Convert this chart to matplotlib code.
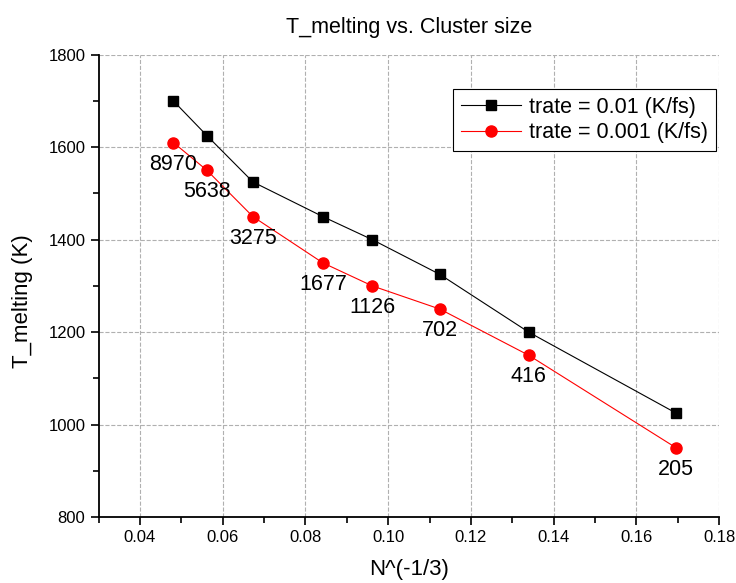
import matplotlib
matplotlib.use("Agg")
import matplotlib.pyplot as plt
from matplotlib.ticker import MultipleLocator

plt.rcParams['font.family'] = ['Liberation Sans', 'DejaVu Sans']

# cluster sizes and N^(-1/3) positions
sizes = ['8970', '5638', '3275', '1677', '1126', '702', '416', '205']
x_vals = [0.0481, 0.0562, 0.0673, 0.0842, 0.0962, 0.1125, 0.1340, 0.1696]
t_fast = [1700, 1625, 1525, 1450, 1400, 1325, 1200, 1025]   # trate = 0.01
t_slow = [1610, 1550, 1450, 1350, 1300, 1250, 1150, 950]    # trate = 0.001

fig = plt.figure(figsize=(7.36, 5.83), dpi=100)
ax = fig.add_axes([0.134, 0.113, 0.843, 0.793])

ax.plot(x_vals, t_fast, color='black', marker='s', markersize=7, linewidth=0.8,
        label='trate = 0.01 (K/fs)')
ax.plot(x_vals, t_slow, color='red', marker='o', markersize=8, linewidth=0.8,
        label='trate = 0.001 (K/fs)')

# size labels sit just under each red point
for x, y, s in zip(x_vals, t_slow, sizes):
    ax.annotate(s, (x, y), xytext=(0, -15.5), textcoords='offset points',
                ha='center', va='center', fontsize=15.5)

ax.set_xlim(0.03, 0.18)
ax.set_ylim(800, 1800)
ax.xaxis.set_minor_locator(MultipleLocator(0.01))
ax.yaxis.set_major_locator(MultipleLocator(200))
ax.yaxis.set_minor_locator(MultipleLocator(100))
ax.set_xticks([0.04, 0.06, 0.08, 0.10, 0.12, 0.14, 0.16, 0.18])
ax.set_xticklabels(['0.04', '0.06', '0.08', '0.10', '0.12', '0.14', '0.16', '0.18'])
ax.tick_params(which='major', direction='out', length=6, width=1.2, labelsize=12)
ax.tick_params(which='minor', direction='out', length=4, width=1.2)
ax.grid(True, which='major', linestyle='--', color='#b0b0b0', linewidth=0.8)

for side in ['top', 'right']:
    ax.spines[side].set_visible(False)
for side in ['left', 'bottom']:
    ax.spines[side].set_linewidth(1.3)

ax.set_xlabel('N^(-1/3)', fontsize=16, labelpad=10)
ax.set_ylabel('T_melting (K)', fontsize=16)
ax.yaxis.set_label_coords(-0.105, 0.468)
ax.set_title('T_melting vs. Cluster size', fontsize=15.5, pad=16)

leg = ax.legend(loc='upper right', bbox_to_anchor=(0.995, 0.925), fontsize=15.5,
                fancybox=False, edgecolor='black', framealpha=1,
                handlelength=2.8, handletextpad=0.4, borderpad=0.35,
                labelspacing=0.2, borderaxespad=0)
leg.get_frame().set_linewidth(0.8)

plt.savefig('out.png', dpi=100)
